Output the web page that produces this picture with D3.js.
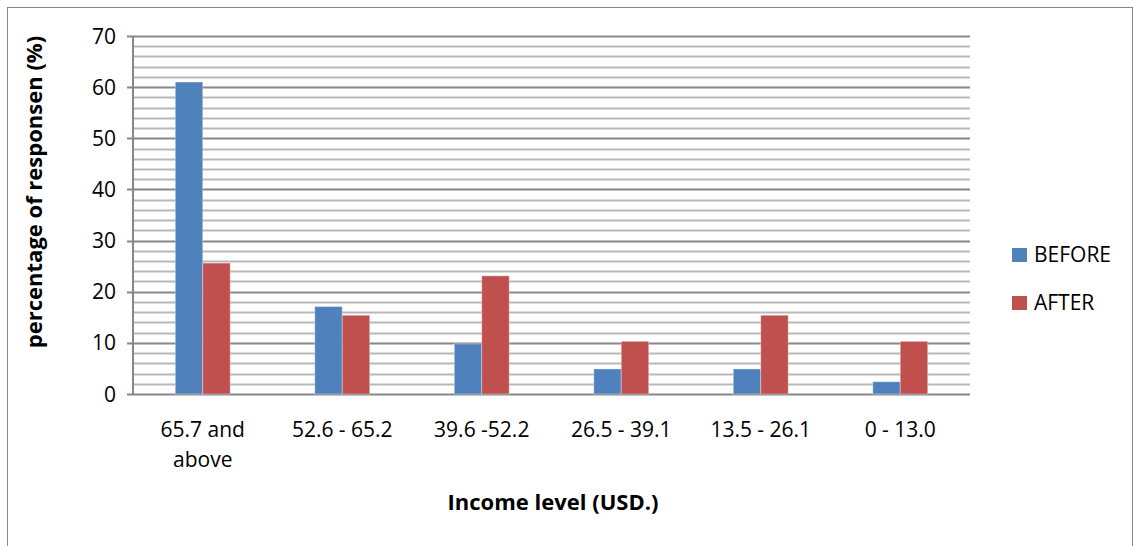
<!DOCTYPE html>
<html>
<head>
<meta charset="utf-8">
<script src="https://cdnjs.cloudflare.com/ajax/libs/d3/7.8.5/d3.min.js"></script>
<style>
  body { margin: 0; background: #fff; }
  text { font-family: "Open Sans", "Liberation Sans", sans-serif; fill: #000; }
</style>
</head>
<body>
<div id="canvas"></div>
<script>
// data
var categories = ["65.7 and above", "52.6 - 65.2", "39.6 -52.2", "26.5 - 39.1", "13.5 - 26.1", "0 - 13.0"];
var before = [61.0, 17.1, 9.8, 4.9, 4.9, 2.4];
var after = [25.6, 15.4, 23.1, 10.3, 15.4, 10.3];
var seriesNames = ["BEFORE", "AFTER"];
var colors = ["#4F81BD", "#C0504D"];
var yTicks = [0, 10, 20, 30, 40, 50, 60, 70];

var w = 1134, h = 546;
var pLeft = 133, pRight = 970, pTop = 36, pBottom = 394;

var paper = d3.select("#canvas")
  .append("svg")
  .attr("width", w)
  .attr("height", h);

// outer chart border
paper.append("rect")
  .attr("x", 7.5).attr("y", 7.5)
  .attr("width", w - 9).attr("height", h + 10)
  .attr("fill", "none")
  .attr("stroke", "#868686");

var x = d3.scaleBand().domain(categories).range([pLeft, pRight]);
var xs = d3.scaleBand().domain(seriesNames).range([0, x.bandwidth()]).paddingInner(0).paddingOuter(1.54);
var y = d3.scaleLinear().domain([0, 70]).range([pBottom, pTop]);

// minor gridlines every 2
var minor = d3.range(2, 70, 2).filter(function(v) { return v % 10 != 0; });
paper.selectAll(".minor").data(minor).enter()
  .append("line")
  .attr("x1", pLeft).attr("x2", pRight)
  .attr("y1", function(d) { return Math.round(y(d)) + 0.5; })
  .attr("y2", function(d) { return Math.round(y(d)) + 0.5; })
  .style("stroke", "#b8b8b8")
  .style("stroke-width", "2px");

// major gridlines
paper.selectAll(".major").data(yTicks).enter()
  .append("line")
  .attr("x1", pLeft - 6).attr("x2", pRight)
  .attr("y1", function(d) { return Math.round(y(d)) + 0.5; })
  .attr("y2", function(d) { return Math.round(y(d)) + 0.5; })
  .style("stroke", "#878787")
  .style("stroke-width", "2px");

// y axis line
paper.append("line")
  .attr("x1", pLeft).attr("x2", pLeft)
  .attr("y1", pTop).attr("y2", pBottom + 1)
  .style("stroke", "#878787")
  .style("stroke-width", "2px");

// y tick labels
paper.selectAll(".ylab").data(yTicks).enter()
  .append("text")
  .attr("x", 116)
  .attr("y", function(d) { return y(d) + 7.5; })
  .attr("text-anchor", "end")
  .style("font-size", "21px")
  .text(function(d) { return d; });

// bars
var groups = paper.selectAll(".grp").data(categories).enter()
  .append("g")
  .attr("transform", function(d) { return "translate(" + x(d) + ",0)"; });

[before, after].forEach(function(vals, si) {
  groups.append("rect")
    .attr("x", xs(seriesNames[si]))
    .attr("y", function(d, i) { return y(vals[i]); })
    .attr("width", xs.bandwidth())
    .attr("height", function(d, i) { return pBottom - y(vals[i]); })
    .attr("fill", colors[si])
    .attr("stroke", "rgba(255,255,255,0.35)")
    .attr("stroke-width", 1);
});

// x labels
groups.append("text")
  .attr("x", x.bandwidth() / 2)
  .attr("y", 437)
  .attr("text-anchor", "middle")
  .style("font-size", "21px")
  .each(function(d) {
    var t = d3.select(this);
    if (d == "65.7 and above") {
      t.append("tspan").attr("x", x.bandwidth() / 2).text("65.7 and");
      t.append("tspan").attr("x", x.bandwidth() / 2).attr("dy", 30).text("above");
    } else {
      t.text(d);
    }
  });

// axis titles
paper.append("text")
  .attr("x", 553).attr("y", 510)
  .attr("text-anchor", "middle")
  .style("font-size", "22px")
  .style("font-weight", "bold")
  .text("Income level (USD.)");

paper.append("text")
  .attr("transform", "translate(42,192) rotate(-90)")
  .attr("text-anchor", "middle")
  .style("font-size", "22px")
  .style("font-weight", "bold")
  .text("percentage of responsen (%)");

// legend
var legend = paper.selectAll(".leg").data(seriesNames).enter()
  .append("g")
  .attr("transform", function(d, i) { return "translate(1012," + (248 + i * 48) + ")"; });
legend.append("rect")
  .attr("width", 15).attr("height", 14)
  .attr("fill", function(d, i) { return colors[i]; });
legend.append("text")
  .attr("x", 22).attr("y", 14)
  .style("font-size", "21px")
  .text(function(d) { return d; });
</script>
</body>
</html>
